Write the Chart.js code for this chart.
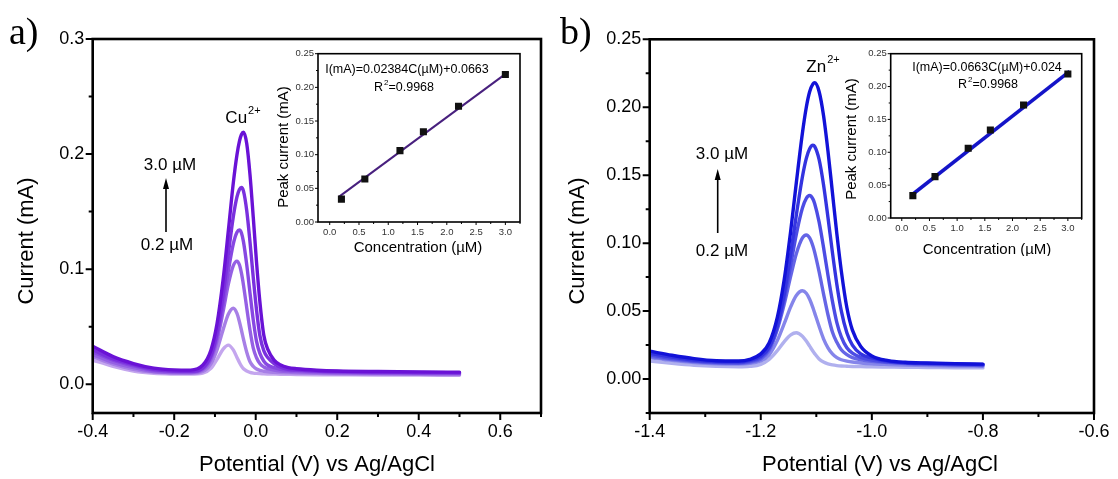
<!DOCTYPE html>
<html>
<head>
<meta charset="utf-8">
<title>Cu2+ / Zn2+ stripping voltammetry</title>
<script src="https://cdn.jsdelivr.net/npm/chart.js@4.4.1/dist/chart.umd.min.js"></script>
<style>
  html, body { margin: 0; padding: 0; background: #fff; }
  #page { position: relative; width: 1118px; height: 479px; overflow: hidden; }
  canvas { position: absolute; }
</style>
</head>
<body>
<div id="page">
  <canvas id="mainA" width="560" height="479" style="left:0;top:0"></canvas>
  <canvas id="mainB" width="558" height="479" style="left:560px;top:0"></canvas>
  <canvas id="insetA" width="258" height="214" style="left:270px;top:44px"></canvas>
  <canvas id="insetB" width="250" height="212" style="left:840px;top:44px"></canvas>
</div>
<script>
// ---- panel a: Cu2+ sweeps (potential in V, current in mA) ----
const potentialA = [-0.4, -0.35, -0.3, -0.25, -0.2, -0.16, -0.13, -0.11, -0.095, -0.08, -0.067, -0.055,
  -0.046, -0.04, -0.035, -0.03, -0.022, -0.014, -0.006, 0.002, 0.01, 0.02, 0.03, 0.045, 0.06, 0.08,
  0.1, 0.15, 0.2, 0.3, 0.4, 0.5];
const cu02 = [0.021, 0.0155, 0.0115, 0.0095, 0.0089, 0.0088, 0.0096, 0.0138, 0.0216, 0.0305, 0.034, 0.0298,
  0.0233, 0.0189, 0.0158, 0.0134, 0.0115, 0.0103, 0.0097, 0.0094, 0.0092, 0.009, 0.0089, 0.0088, 0.0087, 0.0086,
  0.0085, 0.0083, 0.0082, 0.008, 0.0079, 0.0078];
const cu06 = [0.024, 0.0175, 0.013, 0.0105, 0.0097, 0.0096, 0.0111, 0.0177, 0.0299, 0.0474, 0.061, 0.066,
  0.0615, 0.0543, 0.0469, 0.0391, 0.0278, 0.0195, 0.0155, 0.0132, 0.012, 0.0113, 0.0108, 0.0104, 0.0101, 0.0099,
  0.0097, 0.0094, 0.0091, 0.0088, 0.0086, 0.0085];
const cu12 = [0.026, 0.019, 0.0145, 0.011, 0.0102, 0.0101, 0.0125, 0.0215, 0.0378, 0.0632, 0.0871, 0.103,
  0.107, 0.1038, 0.0965, 0.0861, 0.0663, 0.0469, 0.0314, 0.023, 0.018, 0.015, 0.0135, 0.0122, 0.0115, 0.011,
  0.0107, 0.0102, 0.0098, 0.0094, 0.0092, 0.009];
const cu16 = [0.028, 0.021, 0.016, 0.012, 0.011, 0.0107, 0.0135, 0.0235, 0.0413, 0.0697, 0.0989, 0.1219,
  0.132, 0.134, 0.1314, 0.1237, 0.1037, 0.0792, 0.0557, 0.0372, 0.027, 0.02, 0.0165, 0.0145, 0.013, 0.0122,
  0.0118, 0.011, 0.0105, 0.01, 0.0098, 0.0096];
const cu22 = [0.03, 0.022, 0.017, 0.013, 0.0115, 0.0112, 0.0142, 0.025, 0.0447, 0.0776, 0.1137, 0.1456,
  0.1628, 0.1693, 0.171, 0.1678, 0.1507, 0.1235, 0.0926, 0.0645, 0.0427, 0.029, 0.023, 0.018, 0.015, 0.013,
  0.0125, 0.0115, 0.011, 0.0105, 0.0102, 0.01];
const cu30 = [0.033, 0.024, 0.018, 0.014, 0.0125, 0.0123, 0.0165, 0.0296, 0.0525, 0.091, 0.134, 0.175,
  0.1995, 0.211, 0.217, 0.219, 0.209, 0.182, 0.145, 0.106, 0.0725, 0.0423, 0.03, 0.021, 0.017, 0.0145,
  0.0135, 0.0122, 0.0115, 0.011, 0.0107, 0.0105];
const cuColors = ['#c4a6ee', '#a77fe6', '#9560e4', '#8748e2', '#7a30de', '#6a12d6'];

// ---- panel b: Zn2+ sweeps ----
const potentialB = [-1.4, -1.36, -1.32, -1.28, -1.24, -1.22, -1.2, -1.185, -1.17, -1.158, -1.146, -1.136,
  -1.125, -1.118, -1.112, -1.106, -1.103, -1.095, -1.087, -1.079, -1.071, -1.063, -1.055, -1.045, -1.035,
  -1.02, -1.0, -0.97, -0.94, -0.9, -0.85, -0.8];
const zn02 = [0.0132, 0.0115, 0.0101, 0.0093, 0.009, 0.0093, 0.0108, 0.0144, 0.021, 0.0274, 0.0325, 0.034,
  0.0315, 0.0279, 0.0242, 0.0204, 0.0187, 0.0148, 0.0125, 0.0112, 0.0104, 0.0099, 0.0096, 0.0094, 0.0092,
  0.0091, 0.009, 0.0088, 0.0086, 0.0085, 0.0083, 0.0082];
const zn06 = [0.0158, 0.0137, 0.0121, 0.0112, 0.011, 0.0115, 0.0132, 0.0178, 0.0285, 0.0405, 0.0533, 0.0615,
  0.065, 0.0631, 0.0587, 0.0524, 0.0487, 0.0388, 0.0296, 0.023, 0.0185, 0.0158, 0.0142, 0.0132, 0.0125,
  0.0118, 0.0112, 0.0107, 0.0103, 0.0099, 0.0096, 0.0094];
const zn12 = [0.0168, 0.0145, 0.0128, 0.0118, 0.0115, 0.0123, 0.0147, 0.021, 0.0367, 0.0548, 0.0759, 0.0922,
  0.1038, 0.106, 0.1038, 0.0977, 0.0934, 0.079, 0.0627, 0.0473, 0.0346, 0.027, 0.0215, 0.018, 0.0158,
  0.0142, 0.013, 0.0121, 0.0114, 0.0108, 0.0103, 0.01];
const zn16 = [0.0178, 0.0152, 0.0133, 0.0123, 0.012, 0.013, 0.0158, 0.0225, 0.0382, 0.0586, 0.0843, 0.1065,
  0.1258, 0.133, 0.135, 0.1324, 0.1292, 0.1156, 0.0969, 0.0763, 0.0573, 0.0415, 0.031, 0.023, 0.019,
  0.016, 0.014, 0.0125, 0.0117, 0.0112, 0.0107, 0.0104];
const zn22 = [0.019, 0.0162, 0.014, 0.0128, 0.0126, 0.0138, 0.0168, 0.0235, 0.0397, 0.0621, 0.0924, 0.1206,
  0.1489, 0.1624, 0.1695, 0.172, 0.1712, 0.1616, 0.143, 0.1189, 0.0932, 0.0696, 0.0501, 0.034, 0.025,
  0.0185, 0.0155, 0.013, 0.012, 0.0115, 0.011, 0.0107];
const zn30 = [0.0205, 0.0175, 0.015, 0.0135, 0.0133, 0.0145, 0.0185, 0.0265, 0.0458, 0.0727, 0.1094, 0.1444,
  0.181, 0.2, 0.2114, 0.2172, 0.218, 0.2116, 0.1939, 0.1677, 0.1373, 0.1068, 0.0796, 0.0526, 0.036,
  0.024, 0.017, 0.0135, 0.0123, 0.0118, 0.0113, 0.011];
const znColors = ['#b0b0ee', '#8585ea', '#6565e6', '#4c4ce4', '#3434e0', '#1212d8'];

// ---- calibration insets ----
const concentration = [0.2, 0.6, 1.2, 1.6, 2.2, 3.0];
const cuPeaks = [0.034, 0.064, 0.106, 0.134, 0.172, 0.219];
const znPeaks = [0.034, 0.063, 0.106, 0.134, 0.172, 0.219];
const cuFitX = [0.15, 3.05];
const cuFitY = [0.037, 0.223];
const znFitX = [0.18, 3.03];
const znFitY = [0.035, 0.223];

const SANS = "'Liberation Sans', Arial, sans-serif";
const SERIF = "'Liberation Serif', 'Times New Roman', serif";
Chart.defaults.font.family = SANS;
Chart.defaults.color = '#000';

const isMultiple = (v, step) => Math.abs(v / step - Math.round(v / step)) < 1e-6;
const tickText = (major, digits) => value => {
  const v = Math.abs(value) < 1e-9 ? 0 : value;
  return isMultiple(v, major) ? v.toFixed(digits) : '';
};

function drawNote(ctx, n) {
  ctx.save();
  ctx.fillStyle = '#000';
  ctx.translate(n.x, n.y);
  if (n.rotate) ctx.rotate(-Math.PI / 2);
  const main = `${n.size}px ${n.serif ? SERIF : SANS}`;
  const small = `${Math.round(n.size * 0.62)}px ${SANS}`;
  ctx.font = main;
  const w1 = ctx.measureText(n.text).width;
  const w3 = n.tail ? ctx.measureText(n.tail).width : 0;
  ctx.font = small;
  const w2 = n.sup ? ctx.measureText(n.sup).width + 1 : 0;
  let x = n.align === 'left' ? 0 : -(w1 + w2 + w3) / 2;
  ctx.textAlign = 'left';
  ctx.textBaseline = n.baseline || 'middle';
  ctx.font = main;
  ctx.fillText(n.text, x, 0);
  x += w1;
  if (n.sup) {
    ctx.font = small;
    ctx.fillText(n.sup, x + 1, -n.size * 0.42);
    x += w2;
  }
  if (n.tail) {
    ctx.font = main;
    ctx.fillText(n.tail, x, 0);
  }
  ctx.restore();
}

function drawArrow(ctx, n) {
  ctx.save();
  ctx.strokeStyle = '#000';
  ctx.fillStyle = '#000';
  ctx.lineWidth = 1.6;
  ctx.beginPath();
  ctx.moveTo(n.x, n.y1);
  ctx.lineTo(n.x, n.y2 + 8);
  ctx.stroke();
  ctx.beginPath();
  ctx.moveTo(n.x, n.y2);
  ctx.lineTo(n.x - 3, n.y2 + 11);
  ctx.lineTo(n.x + 3, n.y2 + 11);
  ctx.closePath();
  ctx.fill();
  ctx.restore();
}

// box frame, outward tick marks (long for labelled ticks) and free text
function decor(style, notes) {
  return {
    id: 'decor',
    afterDatasetsDraw(chart) {
      const {ctx, chartArea: a, scales} = chart;
      ctx.save();
      ctx.strokeStyle = '#000';
      ctx.lineWidth = style.frame;
      ctx.strokeRect(a.left, a.top, a.right - a.left, a.bottom - a.top);
      ctx.lineWidth = style.tickWidth;
      ctx.beginPath();
      scales.x.ticks.forEach(t => {
        const px = scales.x.getPixelForValue(t.value);
        const len = t.label ? style.major : style.minor;
        ctx.moveTo(px, a.bottom);
        ctx.lineTo(px, a.bottom + len);
      });
      scales.y.ticks.forEach(t => {
        const py = scales.y.getPixelForValue(t.value);
        const len = t.label ? style.major : style.minor;
        ctx.moveTo(a.left, py);
        ctx.lineTo(a.left - len, py);
      });
      ctx.stroke();
      ctx.restore();
    },
    afterDraw(chart) {
      notes.forEach(n => (n.arrow ? drawArrow(chart.ctx, n) : drawNote(chart.ctx, n)));
    }
  };
}

// tick marks come from the decor plugin, so Chart.js reserves no room for its own
const noGrid = {display: false, drawTicks: false, tickLength: 0};

function buildMain(id, potentials, series, colors, ax, notes) {
  new Chart(document.getElementById(id), {
    type: 'line',
    data: {
      datasets: series.map((currents, i) => ({
        data: potentials.map((p, k) => ({x: p, y: currents[k]})),
        borderColor: colors[i],
        borderWidth: 3.4,
        borderCapStyle: 'round',
        pointRadius: 0,
        cubicInterpolationMode: 'monotone',
        order: series.length - 1 - i
      }))
    },
    plugins: [decor({frame: 2.6, tickWidth: 2, major: 7, minor: 4}, notes)],
    options: {
      responsive: false,
      animation: false,
      devicePixelRatio: 1,
      layout: {padding: {top: ax.top, right: ax.right, left: 0, bottom: 0}},
      plugins: {legend: {display: false}, tooltip: {enabled: false}},
      scales: {
        x: {
          type: 'linear', min: ax.xMin, max: ax.xMax,
          grid: noGrid, border: {display: false},
          ticks: {stepSize: 0.1, includeBounds: false, autoSkip: false, maxRotation: 0, padding: 8.5,
                  font: {size: 18}, callback: tickText(0.2, 1)},
          afterFit: s => { s.height = ax.bottomH; }
        },
        y: {
          min: ax.yMin, max: ax.yMax,
          grid: noGrid, border: {display: false},
          ticks: {stepSize: ax.yStep, includeBounds: false, autoSkip: false, padding: 8.5,
                  font: {size: 18}, callback: tickText(ax.yMajor, ax.yDigits)},
          afterFit: s => { s.width = ax.leftW; }
        }
      }
    }
  });
}

function buildInset(id, peaks, fitX, fitY, lineColor, lineWidth, ax, notes) {
  new Chart(document.getElementById(id), {
    type: 'line',
    data: {
      datasets: [
        {
          data: concentration.map((c, k) => ({x: c, y: peaks[k]})),
          showLine: false, pointStyle: 'rect', pointRadius: 5,
          pointBackgroundColor: '#111', pointBorderWidth: 0, order: 0
        },
        {
          data: fitX.map((c, k) => ({x: c, y: fitY[k]})),
          borderColor: lineColor, borderWidth: lineWidth, pointRadius: 0, order: 1
        }
      ]
    },
    plugins: [decor({frame: 1.6, tickWidth: 1, major: 3, minor: 2}, notes)],
    options: {
      responsive: false,
      animation: false,
      devicePixelRatio: 1,
      layout: {padding: {top: ax.top, right: ax.right, left: 0, bottom: 0}},
      plugins: {legend: {display: false}, tooltip: {enabled: false}},
      scales: {
        x: {
          type: 'linear', min: -0.2, max: 3.25,
          grid: noGrid, border: {display: false},
          ticks: {stepSize: 0.25, includeBounds: false, autoSkip: false, maxRotation: 0, padding: 4.5,
                  color: '#333', font: {size: 9.5}, callback: tickText(0.5, 1)},
          afterFit: s => { s.height = ax.bottomH; }
        },
        y: {
          min: 0, max: 0.25,
          grid: noGrid, border: {display: false},
          ticks: {stepSize: 0.025, includeBounds: false, autoSkip: false, padding: 4,
                  color: '#333', font: {size: 9.5}, callback: tickText(0.05, 2)},
          afterFit: s => { s.width = ax.leftW; }
        }
      }
    }
  });
}

buildMain('mainA', potentialA, [cu02, cu06, cu12, cu16, cu22, cu30], cuColors,
  {xMin: -0.4, xMax: 0.7, yMin: -0.025, yMax: 0.3, yStep: 0.05, yMajor: 0.1, yDigits: 1,
   top: 39, right: 19, leftW: 92.7, bottomH: 66},
  [
    {text: 'a)', x: 9, y: 44, size: 38, serif: true, align: 'left', baseline: 'alphabetic'},
    {text: 'Current (mA)', x: 27, y: 241, size: 22, rotate: true},
    {text: 'Potential (V) vs Ag/AgCl', x: 317, y: 465, size: 22},
    {text: 'Cu', sup: '2+', x: 243, y: 118, size: 17},
    {text: '3.0 µM', x: 170, y: 165, size: 17},
    {text: '0.2 µM', x: 167, y: 245, size: 17},
    {arrow: true, x: 166, y1: 232, y2: 178}
  ]);

buildMain('mainB', potentialB, [zn02, zn06, zn12, zn16, zn22, zn30], znColors,
  {xMin: -1.4, xMax: -0.6, yMin: -0.025, yMax: 0.25, yStep: 0.025, yMajor: 0.05, yDigits: 2,
   top: 39.3, right: 19.5, leftW: 89.7, bottomH: 66},
  [
    {text: 'b)', x: 0, y: 44, size: 38, serif: true, align: 'left', baseline: 'alphabetic'},
    {text: 'Current (mA)', x: 18, y: 241, size: 22, rotate: true},
    {text: 'Potential (V) vs Ag/AgCl', x: 320, y: 465, size: 22},
    {text: 'Zn', sup: '2+', x: 263, y: 67, size: 17},
    {text: '3.0 µM', x: 162, y: 154, size: 17},
    {text: '0.2 µM', x: 162, y: 251, size: 17},
    {arrow: true, x: 157.7, y1: 233, y2: 169}
  ]);

buildInset('insetA', cuPeaks, cuFitX, cuFitY, '#48207e', 2,
  {top: 8, right: 8, leftW: 48, bottomH: 36},
  [
    {text: 'I(mA)=0.02384C(µM)+0.0663', x: 137, y: 26, size: 12.5},
    {text: 'R', sup: '2', tail: '=0.9968', x: 134, y: 44, size: 12.5},
    {text: 'Peak current (mA)', x: 14, y: 103, size: 15, rotate: true},
    {text: 'Concentration (µM)', x: 148, y: 204, size: 15}
  ]);

buildInset('insetB', znPeaks, znFitX, znFitY, '#1414c8', 3.5,
  {top: 7.7, right: 8.3, leftW: 50.7, bottomH: 38},
  [
    {text: 'I(mA)=0.0663C(µM)+0.024', x: 147, y: 24, size: 12.5},
    {text: 'R', sup: '2', tail: '=0.9968', x: 148, y: 41, size: 12.5},
    {text: 'Peak current (mA)', x: 12, y: 95, size: 15, rotate: true},
    {text: 'Concentration (µM)', x: 147, y: 206, size: 15}
  ]);
</script>
</body>
</html>
